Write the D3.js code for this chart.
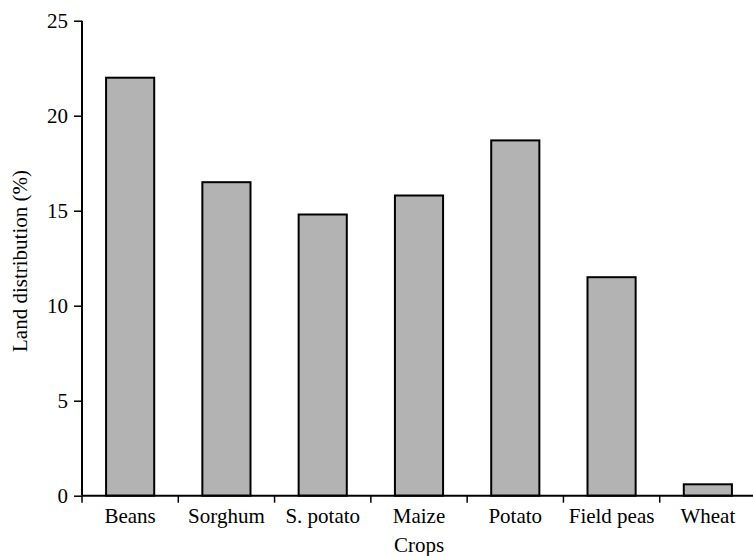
<!DOCTYPE html>
<html>
<head>
<meta charset="utf-8">
<script src="https://cdn.jsdelivr.net/npm/d3@7"></script>
<style>
  body { margin: 0; background: #fff; }
  text { font-family: "Liberation Serif", "Times New Roman", serif; fill: #000; }
</style>
</head>
<body>
<div class="graph1"></div>
<script>
let crops = ["Beans", "Sorghum", "S. potato", "Maize", "Potato", "Field peas", "Wheat"];
let landShare = [22.0, 16.5, 14.8, 15.8, 18.7, 11.5, 0.6];
let yTicks = [0, 5, 10, 15, 20, 25];

let width = 753;
let height = 556;

let svg = d3.select('.graph1')
    .append('svg')
    .attr('width', width)
    .attr('height', height);

// échelles
let x = d3.scaleBand()
    .domain(crops)
    .range([82, 756])
    .paddingInner(0.5)
    .paddingOuter(0.25);

let y = d3.scaleLinear()
    .domain([0, 25])
    .range([495.7, 20.7]);

// barres
crops.forEach(function (c, i) {
    svg.append('rect')
        .attr('x', x(c))
        .attr('y', y(landShare[i]))
        .attr('width', x.bandwidth())
        .attr('height', y(0) - y(landShare[i]))
        .attr('fill', '#b3b3b3')
        .attr('stroke', '#000')
        .attr('stroke-width', 2);
});

// axe x : traits aux limites des catégories
let bounds = crops.map(function (c) { return x(c) - x.step() * 0.25; });
bounds.push(756);
svg.append('line')
    .attr('x1', 82).attr('x2', 753)
    .attr('y1', y(0)).attr('y2', y(0))
    .attr('stroke', '#000').attr('stroke-width', 2);
bounds.forEach(function (b) {
    svg.append('line')
        .attr('x1', b).attr('x2', b)
        .attr('y1', y(0)).attr('y2', y(0) + 7)
        .attr('stroke', '#000').attr('stroke-width', 1.5);
});
crops.forEach(function (c) {
    svg.append('text')
        .attr('x', x(c) + x.bandwidth() / 2)
        .attr('y', 523)
        .attr('text-anchor', 'middle')
        .style('font-size', '21px')
        .text(c);
});

// axe y
let yAxis = d3.axisLeft(y)
    .tickValues(yTicks)
    .tickSize(8)
    .tickPadding(6)
    .tickFormat(d3.format('d'));
let gy = svg.append('g')
    .attr('transform', 'translate(82,0)')
    .call(yAxis);
gy.select('.domain').attr('stroke-width', 2).attr('d', 'M0,' + y(25) + 'V' + y(0));
gy.selectAll('.tick line').attr('stroke-width', 1.5);
gy.selectAll('.tick text')
    .style('font-family', '"Liberation Serif", serif')
    .style('font-size', '21px')
    .attr('fill', '#000');

// titres
svg.append('text')
    .attr('x', 419)
    .attr('y', 552)
    .attr('text-anchor', 'middle')
    .style('font-size', '21px')
    .text('Crops');

svg.append('text')
    .attr('transform', 'translate(27,261) rotate(-90)')
    .attr('text-anchor', 'middle')
    .style('font-size', '21px')
    .text('Land distribution (%)');
</script>
</body>
</html>
